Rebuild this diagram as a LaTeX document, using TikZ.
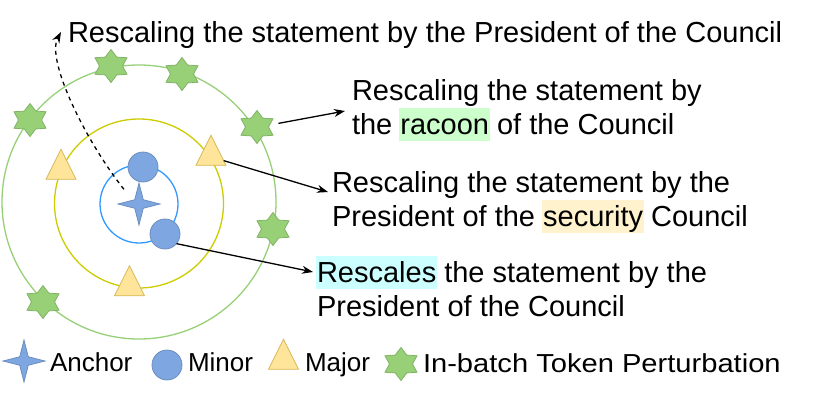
\documentclass[tikz,border=0pt]{standalone}
\usepackage{fontspec}
\usepackage{graphicx}
\setmainfont{Liberation Sans}
\usetikzlibrary{shapes.geometric,arrows.meta}
\definecolor{minfill}{HTML}{7EA6E0}
\definecolor{minline}{HTML}{6C8EBF}
\definecolor{majfill}{HTML}{FFE599}
\definecolor{majline}{HTML}{D6B656}
\definecolor{tokfill}{HTML}{97D077}
\definecolor{tokline}{HTML}{82B366}
\definecolor{ringblue}{HTML}{3399FF}
\definecolor{ringyellow}{HTML}{CCCC00}
\definecolor{ringgreen}{HTML}{97D077}
\definecolor{hlgreen}{HTML}{CCFFCC}
\definecolor{hlorange}{HTML}{FFF2CC}
\definecolor{hlcyan}{HTML}{CCFFFF}
\newlength\hlw
\newcommand\hlword[2]{\settowidth\hlw{#2}\makebox[0pt][l]{\hspace{-1pt}\textcolor{#1}{\rule[-7pt]{\dimexpr\hlw+2pt\relax}{33pt}}}#2}
\begin{document}
\begin{tikzpicture}[x=1pt,y=1pt,
  anchorstar/.style={star, star points=4, star point ratio=3.5, fill=minfill, draw=minline, line width=0.8pt, inner sep=0pt, outer sep=0pt, minimum size=#1},
  minornode/.style={circle, fill=minfill, draw=minline, line width=0.8pt, inner sep=0pt, outer sep=0pt, minimum size=30},
  majornode/.style={isosceles triangle, shape border rotate=90, isosceles triangle stretches, fill=majfill, draw=majline, line width=0.8pt, inner sep=0pt, outer sep=0pt, minimum width=30, minimum height=30},
  tokennode/.style={star, star points=6, star point ratio=1.6, xscale=1.12, fill=tokfill, draw=tokline, line width=0.8pt, inner sep=0pt, outer sep=0pt, minimum size=33},
  ring/.style={line width=1.3pt},
  txt/.style={font=\fontsize{29}{34}\selectfont, inner sep=0pt, outer sep=0pt, anchor=base west, align=left},
  lbl/.style={font=\fontsize{26}{30}\selectfont, inner sep=0pt, outer sep=0pt, anchor=base west},
  conn/.style={line width=1.3pt, -{Stealth[length=11pt,width=8pt]}},
  dashconn/.style={line width=1.3pt, dash pattern=on 4pt off 4pt, -{Stealth[length=11pt,width=8pt]}}
]
\useasboundingbox (0,0) rectangle (831,-400);

% rings
\draw[ring, ringgreen] (139,-202) circle[radius=137];
\draw[ring, ringyellow] (139,-203.5) circle[radius=84.5];
\draw[ring, ringblue] (139,-204) circle[radius=39];

% perturbation tokens
\node[tokennode] (s1) at (111,-66) {};
\node[tokennode] (s2) at (182,-74) {};
\node[tokennode] (s3) at (30,-120) {};
\node[tokennode] (s4) at (257,-127) {};
\node[tokennode] (s5) at (273,-229) {};
\node[tokennode] (s6) at (43,-302) {};

% majors
\node[majornode] (t1) at (61,-170) {};
\node[majornode] (t2) at (211,-156) {};
\node[majornode] (t3) at (129.5,-286.5) {};

% minors
\node[minornode] (m1) at (143,-167) {};
\node[minornode] (m2) at (165,-234) {};

% anchor
\node[anchorstar=42] (anc) at (139,-204) {};

% texts (base anchor = baseline of the last line)
\node[txt] (title) at (68,-42) {Rescaling the statement by the President of the Council};
\node[txt] (r1) at (352,-134) {Rescaling the statement by\\the \hlword{hlgreen}{racoon} of the Council};
\node[txt] (r2) at (332,-226) {Rescaling the statement by the\\President of the \hlword{hlorange}{security} Council};
\node[txt] (r3) at (317,-316) {\hlword{hlcyan}{Rescales} the statement by the\\President of the Council};

% connectors
\coordinate (a1e) at (345,-111);
\coordinate (a2e) at (328,-192);
\coordinate (a3e) at (313,-272);
\coordinate (dse) at (61,-32);
\draw[conn, shorten <=9pt] (s4.10) -- (a1e);
\draw[conn] (t2.-20) -- (a2e);
\draw[conn] (m2.-40) -- (a3e);
\draw[dashconn, shorten <=14pt] (anc.150) .. controls (85,-140) and (46,-60) .. (dse);

% legend
\node[anchorstar=42] (la) at (24,-361) {};
\node[lbl] (lat) at (50,-371) {Anchor};
\node[minornode] (lm) at (167,-365) {};
\node[lbl] (lmt) at (188,-371) {Minor};
\node[majornode] (lj) at (283.5,-360) {};
\node[lbl] (ljt) at (305,-371.5) {Major};
\node[tokennode] (lt) at (401,-364) {};
\node[lbl] (ltt) at (423,-372) {\scalebox{1.12}[1]{In-batch Token Perturbation}};
\end{tikzpicture}
\end{document}
